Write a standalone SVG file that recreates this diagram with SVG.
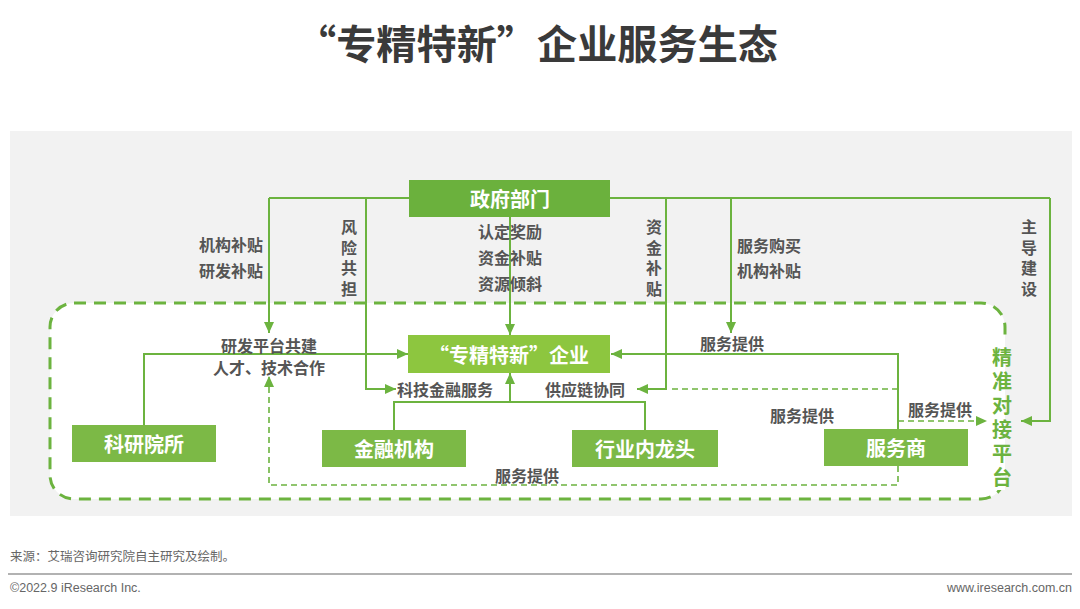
<svg xmlns="http://www.w3.org/2000/svg" width="1080" height="609" viewBox="0 0 1080 609">
<style>
.t{font-family:"Noto Sans CJK SC","Noto Sans",sans-serif;font-weight:bold;dominant-baseline:central}
.lbl{font-size:16px;fill:#555}
.vt{writing-mode:tb;text-anchor:middle;letter-spacing:4.5px}
.box{font-size:20px;fill:#fff;text-anchor:middle}
.ln{fill:none;stroke:#6cb33f;stroke-width:2}
.dl{fill:none;stroke:#6cb33f;stroke-width:1.6;stroke-dasharray:6 4}
.foot{font-family:"Liberation Sans Narrow","Liberation Sans","Noto Sans CJK SC",sans-serif;font-size:12.5px;fill:#666}
</style>
<defs>
<marker id="ah" markerUnits="userSpaceOnUse" markerWidth="11" markerHeight="10" refX="11" refY="5" orient="auto"><path d="M0,0 L11,5 L0,10 z" fill="#6cb33f"/></marker>
</defs>
<rect width="1080" height="609" fill="#fff"/>
<text class="t" x="537" y="42" font-size="40" fill="#3a3a3a" text-anchor="middle" textLength="482" lengthAdjust="spacingAndGlyphs">“专精特新”企业服务生态</text>
<rect x="10" y="131" width="1062" height="385" fill="#f2f2f2"/>
<g id="platform">
<rect x="50" y="303" width="955" height="196" rx="24" fill="#fff" stroke="#6cb33f" stroke-width="3" stroke-dasharray="12 8"/>
<rect x="992" y="342" width="13" height="148" fill="#fff"/>
<rect x="1005" y="342" width="10" height="148" fill="#f2f2f2"/>
</g>
<g id="connectors">
<path class="ln" d="M269,198 H1050"/>
<path class="ln" d="M269,198 V333" marker-end="url(#ah)"/>
<path class="ln" d="M366,198 V389 H396" marker-end="url(#ah)"/>
<path class="ln" d="M510,217 V335" marker-end="url(#ah)"/>
<path class="ln" d="M666,198 V389 H637" marker-end="url(#ah)"/>
<path class="ln" d="M731,198 V333" marker-end="url(#ah)"/>
<path class="ln" d="M1050,198 V421 H1021" marker-end="url(#ah)"/>
<path class="ln" d="M144,425 V354 H408" marker-end="url(#ah)"/>
<path class="ln" d="M898,430 V354 H611" marker-end="url(#ah)"/>
<path class="ln" d="M394,430 V402 H645 V430"/>
<path class="ln" d="M510,402 V373" marker-end="url(#ah)"/>
<path class="dl" d="M898,389 H668"/>
<path class="dl" d="M898,421 H987" marker-end="url(#ah)"/>
<path class="dl" d="M898,466 V485 H269 V376" marker-end="url(#ah)"/>
</g>
<g id="labels">
<text class="t lbl" x="263" y="244" text-anchor="end">机构补贴</text>
<text class="t lbl" x="263" y="270" text-anchor="end">研发补贴</text>
<text class="t lbl vt" x="349" y="260">风险共担</text>
<text class="t lbl" x="510" y="231" text-anchor="middle">认定奖励</text>
<text class="t lbl" x="510" y="257" text-anchor="middle">资金补贴</text>
<text class="t lbl" x="510" y="283" text-anchor="middle">资源倾斜</text>
<text class="t lbl vt" x="654" y="260">资金补贴</text>
<text class="t lbl" x="737" y="245">服务购买</text>
<text class="t lbl" x="737" y="270">机构补贴</text>
<text class="t lbl vt" x="1029" y="260">主导建设</text>
<text class="t lbl" x="269" y="345" text-anchor="middle">研发平台共建</text>
<text class="t lbl" x="269" y="367" text-anchor="middle">人才、技术合作</text>
<text class="t lbl" x="397" y="389">科技金融服务</text>
<text class="t lbl" x="585" y="389" text-anchor="middle">供应链协同</text>
<text class="t lbl" x="732" y="343" text-anchor="middle">服务提供</text>
<text class="t lbl" x="802" y="415" text-anchor="middle">服务提供</text>
<text class="t lbl" x="940" y="409" text-anchor="middle">服务提供</text>
<text class="t lbl" x="527" y="475" text-anchor="middle">服务提供</text>
</g>
<g id="gov">
<rect x="409" y="180" width="201" height="37" fill="#6bb13d"/>
<text class="t box" x="510" y="198.5">政府部门</text>
</g>
<g id="enterprise">
<rect x="408" y="335" width="202" height="38" fill="#8dc63f"/>
<text class="t box" x="509" y="354">“专精特新”企业</text>
</g>
<g id="research">
<rect x="72" y="425" width="144" height="37" fill="#7cb946"/>
<text class="t box" x="144" y="443.5">科研院所</text>
</g>
<g id="finance">
<rect x="322" y="430" width="144" height="37" fill="#7cb946"/>
<text class="t box" x="394" y="448.5">金融机构</text>
</g>
<g id="leader">
<rect x="572" y="430" width="146" height="37" fill="#7cb946"/>
<text class="t box" x="645" y="448.5">行业内龙头</text>
</g>
<g id="provider">
<rect x="824" y="429" width="144" height="37" fill="#7cb946"/>
<text class="t box" x="896" y="447.5">服务商</text>
</g>
<g id="platform-label">
<text class="t vt" x="1002" y="419" font-size="20" fill="#6cb33f" style="letter-spacing:4px">精准对接平台</text>
</g>
<g id="footer">
<text class="foot" x="10" y="561">来源：艾瑞咨询研究院自主研究及绘制。</text>
<line x1="8" y1="574" x2="1072" y2="574" stroke="#999" stroke-width="1.5"/>
<text class="foot" x="10" y="592">©2022.9 iResearch Inc.</text>
<text class="foot" x="1072" y="592" text-anchor="end">www.iresearch.com.cn</text>
</g>
</svg>
